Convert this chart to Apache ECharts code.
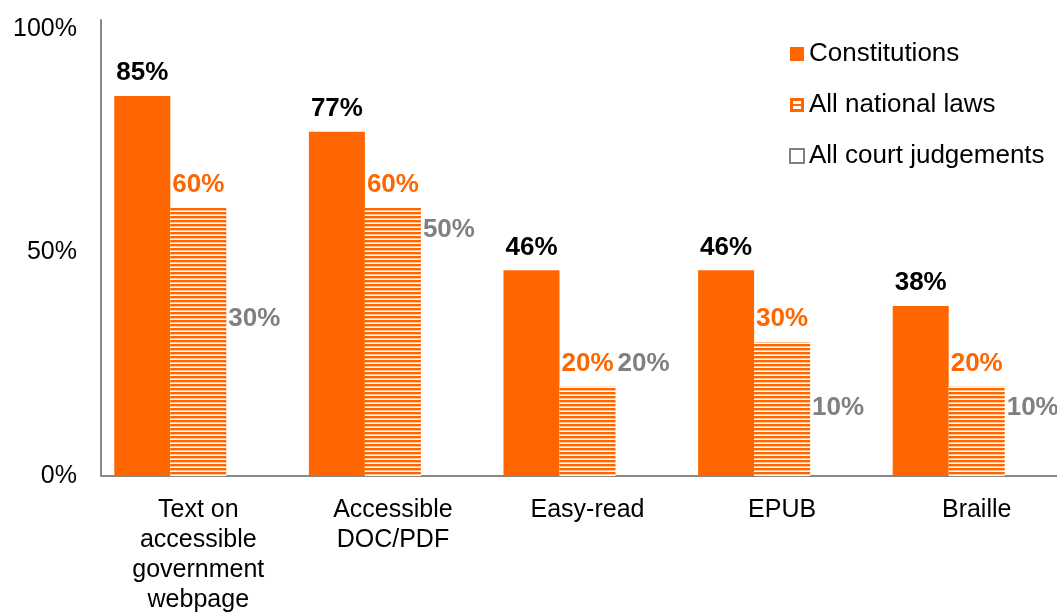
<!DOCTYPE html>
<html>
<head>
<meta charset="utf-8">
<script src="https://cdn.jsdelivr.net/npm/echarts@6/dist/echarts.min.js"></script>
<style>
  html, body { margin: 0; padding: 0; background: #fff; }
  #main { width: 1057px; height: 612px; }
</style>
</head>
<body>
<div id="main"></div>
<script>
var categories = ['Text on\naccessible\ngovernment\nwebpage', 'Accessible\nDOC/PDF', 'Easy-read', 'EPUB', 'Braille'];
var seriesNames = ['Constitutions', 'All national laws', 'All court judgements'];
var constitutions = [85, 77, 46, 46, 38];
var nationalLaws = [60, 60, 20, 30, 20];
var courtJudgements = [30, 50, 20, 10, 10];
var yTicks = [0, 50, 100];

var ORANGE = '#ff6600';
var GREY = '#808080';
var FONT = '"Liberation Sans", Arial, sans-serif';

// horizontal stripe fill for "All national laws"
function stripes() {
  var c = document.createElement('canvas');
  c.width = 4; c.height = 4;
  var ctx = c.getContext('2d');
  ctx.fillStyle = '#ffffff';
  ctx.fillRect(0, 0, 4, 4);
  ctx.fillStyle = ORANGE;
  ctx.fillRect(0, 0, 4, 2);
  ctx.fillStyle = '#ffc299';
  ctx.fillRect(0, 2, 4, 1);
  return c;
}

function lbl(color) {
  return {
    show: true,
    position: 'top',
    distance: 10,
    formatter: '{c}%',
    color: color,
    fontFamily: FONT,
    fontWeight: 'bold',
    fontSize: 26
  };
}

var chart = echarts.init(document.getElementById('main'));
var option = {
  backgroundColor: '#fff',
  animation: false,
  grid: { left: 101, width: 973, top: 20, bottom: 136, containLabel: false, outerBoundsMode: 'none' },
  legend: {
    orient: 'vertical',
    left: 784,
    top: 36,
    itemWidth: 14,
    itemHeight: 14,
    itemGap: 25,
    textStyle: { fontFamily: FONT, fontSize: 26, lineHeight: 26, color: '#000' },
    data: [
      { name: seriesNames[0], icon: 'rect', itemStyle: { color: ORANGE } },
      { name: seriesNames[1], icon: 'path://M0,0H14V14H0Z M3,3V6H11V3Z M3,8V11H11V8Z', itemStyle: { color: ORANGE } },
      { name: seriesNames[2], icon: 'rect', itemStyle: { color: '#fff', borderColor: GREY, borderWidth: 2 } }
    ]
  },
  xAxis: {
    type: 'category',
    data: categories,
    axisLine: { lineStyle: { color: '#888888', width: 2 } },
    axisTick: { show: false },
    axisLabel: {
      interval: 0,
      margin: 19,
      fontFamily: FONT,
      fontSize: 25,
      lineHeight: 30,
      color: '#000'
    }
  },
  yAxis: {
    type: 'value',
    min: yTicks[0],
    max: 102,
    interval: 50,
    splitLine: { show: false },
    axisLine: { show: true, lineStyle: { color: '#888888', width: 2 } },
    axisTick: { show: false },
    axisLabel: {
      margin: 24,
      showMaxLabel: false,
      formatter: function (v) { return yTicks.indexOf(v) >= 0 ? v + '%' : ''; },
      fontFamily: FONT,
      fontSize: 25,
      color: '#000'
    }
  },
  series: [
    {
      name: seriesNames[0],
      type: 'bar',
      data: constitutions,
      barWidth: 56,
      barGap: '0%',
      itemStyle: { color: ORANGE },
      label: lbl('#000')
    },
    {
      name: seriesNames[1],
      type: 'bar',
      data: nationalLaws,
      barWidth: 56,
      barGap: '0%',
      itemStyle: { color: { image: stripes(), repeat: 'repeat' } },
      label: lbl(ORANGE)
    },
    {
      name: seriesNames[2],
      type: 'bar',
      data: courtJudgements,
      barWidth: 56,
      barGap: '0%',
      itemStyle: { color: 'rgba(255,255,255,0)' },
      label: lbl(GREY)
    }
  ]
};
chart.setOption(option);
</script>
</body>
</html>
